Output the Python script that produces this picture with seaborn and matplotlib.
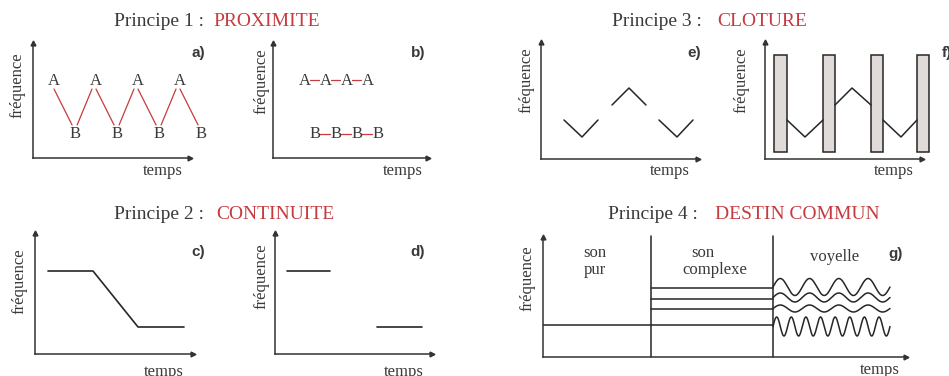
import numpy as np
import pandas as pd
import matplotlib.pyplot as plt
import seaborn as sns

sns.set_theme(style='white')
plt.rcParams['font.family'] = ['Liberation Serif', 'DejaVu Serif']

DARK = '#3a3a3a'
LINE = '#262626'
RED = '#c63b3f'

# a) proximite : alternance A/B
a_A_t = [1, 3, 5, 7]
a_B_t = [2, 4, 6, 8]
a_A_f = 7.7
a_B_f = 2.4

# b) proximite : deux flux
b_A_t = [1.5, 2.5, 3.5, 4.5]
b_B_t = [2, 3, 4, 5]
b_A_f = 7.7
b_B_f = 2.4

# c) continuite : glissando
c_t = [1.3, 5.8, 10.3, 14.9]
c_f = [8.3, 8.3, 2.7, 2.7]

# d) continuite : saut
d_start = [1.2, 10.2]
d_end = [5.5, 14.7]
d_f = [8.3, 2.7]

# e) / f) cloture
e_t = [2.3, 4.1, 5.7, 7.1, 8.8, 10.5, 11.8, 13.6, 15.2]
zig_f = [3.9, 2.2, 3.9, 5.4, 7.1, 5.4, 3.9, 2.2, 3.9]
zig_seg = [0, 0, 0, 1, 1, 1, 2, 2, 2]
f_t = [2.2, 4.0, 5.8, 7.0, 8.7, 10.6, 11.8, 13.6, 15.2]
f_bar_t = [1.55, 6.4, 11.2, 15.8]
f_bar_bottom = 0.7
f_bar_top = 10.4

# g) destin commun
g_sep_t = [10.8, 23.0]
g_pur_f = 3.2
g_complexe_f = [6.9, 5.8, 4.8]
g_voy_center = [7.0, 5.95, 4.85, 3.05]
g_voy_amp = [0.85, 0.45, 0.35, 0.95]
g_voy_cycles = [4, 4, 4, 8]
g_voy_end = 34.7

W, H = 949, 376
fig = plt.figure(figsize=(W / 100, H / 100), dpi=100)


def px(x, y):
    return x / W, 1 - y / H


def panel(x0, y0, x1, ytop, xunit=10, yunit=10):
    ax = fig.add_axes([x0 / W, 1 - y0 / H, (x1 - x0) / W, (y0 - ytop) / H])
    ax.set_xlim(0, (x1 - x0) / xunit)
    ax.set_ylim(0, (y0 - ytop) / yunit)
    ax.set_facecolor('none')
    ax.set_xticks([])
    ax.set_yticks([])
    for s in ['top', 'right']:
        ax.spines[s].set_visible(False)
    for s in ['left', 'bottom']:
        ax.spines[s].set_color('#333333')
        ax.spines[s].set_linewidth(1.1)
    ax.plot(1, 0, '>', transform=ax.transAxes, clip_on=False, ms=3.5, color='#333333')
    ax.plot(0, 1, '^', transform=ax.transAxes, clip_on=False, ms=3.5, color='#333333')
    return ax


def labels(freq_xy, temps_xy, letter_xy, letter):
    fig.text(*px(*freq_xy), 'fréquence', rotation=90, ha='center', va='center',
             fontsize=12, color=DARK)
    fig.text(*px(*temps_xy), 'temps', ha='center', va='center', fontsize=12, color=DARK)
    fig.text(*px(*letter_xy), letter, ha='center', va='center', fontsize=11,
             fontweight='bold', family='Liberation Sans', color=DARK)


def title(x_num, x_name, y, num, name):
    fig.text(*px(x_num, y), 'Principe %s :' % num, ha='left', va='baseline',
             fontsize=14, color=DARK)
    fig.text(*px(x_name, y), name, ha='left', va='baseline', fontsize=14, color=RED)


# ---- a)
ax = panel(33, 158, 190, 43, xunit=21)
for t in a_A_t:
    ax.text(t, a_A_f, 'A', ha='center', va='center', fontsize=12, color=DARK, clip_on=False)
for t in a_B_t:
    ax.text(t, a_B_f, 'B', ha='center', va='center', fontsize=12, color=DARK, clip_on=False)
for ta, tb in zip(a_A_t, a_B_t):
    ax.plot([ta, tb - 0.14], [a_A_f - 0.8, a_B_f + 0.9], color=RED, lw=0.9, clip_on=False)
for tb, ta in zip(a_B_t[:-1], a_A_t[1:]):
    ax.plot([tb + 0.1, ta - 0.19], [a_B_f + 0.9, a_A_f - 0.8], color=RED, lw=0.9, clip_on=False)
labels((17, 85), (163, 171), (198, 53), 'a)')

# ---- b)
ax = panel(273, 158, 428, 43, xunit=21)
for t in b_A_t:
    ax.text(t, b_A_f, 'A', ha='center', va='center', fontsize=12, color=DARK)
for t in b_B_t:
    ax.text(t, b_B_f, 'B', ha='center', va='center', fontsize=12, color=DARK)
for t in b_A_t[:-1]:
    ax.plot([t + 0.27, t + 0.69], [b_A_f + 0.1, b_A_f + 0.1], color=RED, lw=0.9)
for t in b_B_t[:-1]:
    ax.plot([t + 0.25, t + 0.72], [b_B_f, b_B_f], color=RED, lw=0.9)
labels((261, 81), (403, 171), (418, 53), 'b)')

# ---- c)
ax = panel(35, 354, 193, 233)
sns.lineplot(x=c_t, y=c_f, sort=False, estimator=None, color=LINE, lw=1.2, ax=ax)
labels((19, 281), (164, 372), (198, 252), 'c)')

# ---- d)
ax = panel(275, 354, 432, 233)
d_df = pd.DataFrame({'t': d_start + d_end, 'f': d_f + d_f, 'seg': [0, 1, 0, 1]})
sns.lineplot(data=d_df, x='t', y='f', units='seg', estimator=None, color=LINE, lw=1.2, ax=ax)
ax.set_xlabel('')
ax.set_ylabel('')
labels((261, 276), (404, 372), (418, 252), 'd)')

# ---- e)
ax = panel(541, 159, 698, 42)
e_df = pd.DataFrame({'t': e_t, 'f': zig_f, 'seg': zig_seg})
sns.lineplot(data=e_df, x='t', y='f', units='seg', estimator=None, sort=False,
             color=LINE, lw=1.1, ax=ax)
ax.set_xlabel('')
ax.set_ylabel('')
labels((526, 80), (670, 171), (694, 53), 'e)')

# ---- f)
ax = panel(765, 159, 922, 42)
ax.bar(f_bar_t, f_bar_top - f_bar_bottom, bottom=f_bar_bottom, width=1.25,
       color='#e0dbd8', edgecolor=LINE, linewidth=1.1, clip_on=False)
f_df = pd.DataFrame({'t': f_t, 'f': zig_f, 'seg': zig_seg})
sns.lineplot(data=f_df, x='t', y='f', units='seg', estimator=None, sort=False,
             color=LINE, lw=1.1, ax=ax)
ax.set_xlabel('')
ax.set_ylabel('')
fig.text(*px(741, 80), 'fréquence', rotation=90, ha='center', va='center', fontsize=12, color=DARK)
fig.text(*px(894, 171), 'temps', ha='center', va='center', fontsize=12, color=DARK)
fig.text(*px(942, 53), 'f)', ha='left', va='center', fontsize=11, fontweight='bold',
         family='Liberation Sans', color=DARK)

# ---- g)
ax = panel(543, 357, 906, 237)
top = ax.get_ylim()[1]
for t in g_sep_t:
    ax.plot([t, t], [0, top + 0.1], color=LINE, lw=1.1, clip_on=False)
ax.plot([0, g_sep_t[1]], [g_pur_f, g_pur_f], color=LINE, lw=1.1)
for f in g_complexe_f:
    ax.plot([g_sep_t[0], g_sep_t[1]], [f, f], color=LINE, lw=1.1)
rows = []
for k, (c, a, n) in enumerate(zip(g_voy_center, g_voy_amp, g_voy_cycles)):
    tt = np.linspace(g_sep_t[1], g_voy_end, 400)
    ff = c + a * np.sin(2 * np.pi * n * (tt - g_sep_t[1]) / (g_voy_end - g_sep_t[1]))
    rows.append(pd.DataFrame({'t': tt, 'f': ff, 'seg': k}))
g_df = pd.concat(rows)
sns.lineplot(data=g_df, x='t', y='f', units='seg', estimator=None, sort=False,
             color=LINE, lw=1.1, ax=ax)
ax.set_xlabel('')
ax.set_ylabel('')
fig.text(*px(595, 253), 'son', ha='center', va='center', fontsize=12, color=DARK)
fig.text(*px(595, 270), 'pur', ha='center', va='center', fontsize=12, color=DARK)
fig.text(*px(703, 253), 'son', ha='center', va='center', fontsize=12, color=DARK)
fig.text(*px(715, 270), 'complexe', ha='center', va='center', fontsize=12, color=DARK)
fig.text(*px(835, 257), 'voyelle', ha='center', va='center', fontsize=12, color=DARK)
labels((527, 278), (880, 370), (896, 254), 'g)')

title(114, 213, 26, '1', 'PROXIMITE')
title(114, 216, 219, '2', 'CONTINUITE')
title(612, 717, 26, '3', 'CLOTURE')
title(608, 715, 219, '4', 'DESTIN COMMUN')

fig.savefig('out.png', dpi=100)
